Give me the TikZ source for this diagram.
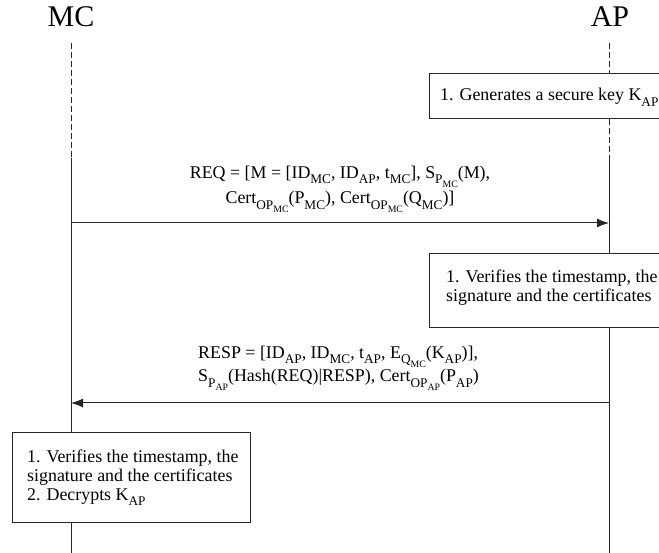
\documentclass[tikz,border=0pt]{standalone}
\usepackage{fontspec}
\setmainfont{Liberation Serif}
\usetikzlibrary{arrows.meta}

\newcommand{\sbs}[1]{\raisebox{-0.28em}{\scalebox{0.74}{#1}}}

\begin{document}
\begin{tikzpicture}[x=1pt,y=-1pt,
    actor/.style={font=\fontsize{30}{36}\selectfont, inner sep=0pt},
    lifeline/.style={draw=black!85, line width=1pt, dash pattern=on 6pt off 3pt},
    solidline/.style={draw=black!85, line width=1pt},
    msg/.style={draw=black!85, line width=1pt, -{Latex[length=12pt,width=9pt]}},
    actbox/.style={draw=black!85, line width=1pt, fill=white, anchor=north west, inner sep=0pt},
    txt/.style={font=\fontsize{17.9}{19}\selectfont, inner sep=0pt}]
    \useasboundingbox (0,0) rectangle (659,553);
    \clip (0,0) rectangle (659,553);

    % actors
    \node[actor, anchor=base] (mc) at (71,27) {MC};
    \node[actor, anchor=base] (ap) at (610,27) {AP};

    \coordinate (mc top) at (71,43);
    \coordinate (mc mid) at (71,158);
    \coordinate (mc bot) at (71,553);
    \coordinate (ap top) at (609,43);
    \coordinate (ap mid) at (609,160);
    \coordinate (ap bot) at (609,553);

    % boxes (base anchor = baseline of the last line)
    \node[actbox, minimum width=260pt, minimum height=45pt] (gen) at (429,73) {};
    \node[txt, anchor=base west] (gen txt) at (440,101)
        {1. Generates a secure key K\sbs{AP}};

    \node[actbox, minimum width=260pt, minimum height=74pt] (ver) at (429,253) {};
    \node[txt, anchor=base west, align=left] (ver txt) at (446,302)
        {1. Verifies the timestamp, the\\signature and the certificates};

    \node[actbox, minimum width=238pt, minimum height=90pt] (dec) at (12,432) {};
    \node[txt, anchor=base west, align=left] (dec txt) at (27,500)
        {1. Verifies the timestamp, the\\signature and the certificates\\2. Decrypts K\sbs{AP}};

    % lifelines
    \draw[lifeline] (mc top) -- (mc mid);
    \draw[solidline] (mc mid) -- (mc mid |- dec.north);
    \draw[solidline] (mc mid |- dec.south) -- (mc bot);
    \draw[lifeline] (ap top) -- (ap top |- gen.north);
    \draw[lifeline] (ap top |- gen.south) -- (ap mid);
    \draw[solidline] (ap mid) -- (ap mid |- ver.north);
    \draw[solidline] (ap mid |- ver.south) -- (ap bot);

    % messages
    \coordinate (req a) at (71,223);
    \coordinate (req b) at (609,223);
    \node[txt, anchor=base, align=center] (req) at (340,204)
        {REQ = [M = [ID\sbs{MC}, ID\sbs{AP}, t\sbs{MC}], S\sbs{P\sbs{MC}}(M),\\[3pt]
         Cert\sbs{OP\sbs{MC}}(P\sbs{MC}), Cert\sbs{OP\sbs{MC}}(Q\sbs{MC})]};
    \draw[msg] (req a) -- (req b);

    \coordinate (resp a) at (609,403);
    \coordinate (resp b) at (71,403);
    \node[txt, anchor=base west, align=left] (resp) at (198,382)
        {RESP = [ID\sbs{AP}, ID\sbs{MC}, t\sbs{AP}, E\sbs{Q\sbs{MC}}(K\sbs{AP})],\\[1pt]
         S\sbs{P\sbs{AP}}(Hash(REQ)|RESP), Cert\sbs{OP\sbs{AP}}(P\sbs{AP})};
    \draw[msg] (resp a) -- (resp b);
\end{tikzpicture}
\end{document}
